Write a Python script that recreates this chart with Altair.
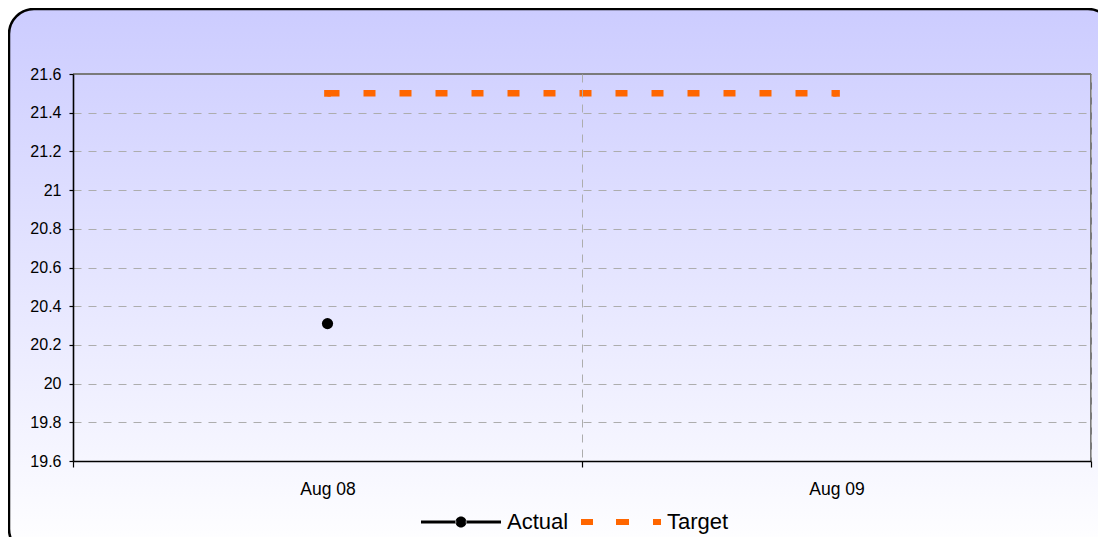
import altair as alt
import pandas as pd

# ---- data ----
months = ["Aug 08", "Aug 09"]
actual = [20.31, None]
target = [21.5, 21.5]
series_names = ["Actual", "Target"]
y_ticks = [19.6, 19.8, 20.0, 20.2, 20.4, 20.6, 20.8, 21.0, 21.2, 21.4, 21.6]

actual_df = pd.DataFrame({
    "month": [m for m, v in zip(months, actual) if v is not None],
    "value": [v for v in actual if v is not None],
    "series": "Actual",
})
target_df = pd.DataFrame({"month": months, "value": target, "series": "Target"})
all_df = pd.concat([actual_df, target_df], ignore_index=True)

W, H = 1018, 387
FONT = "Liberation Sans"
ORANGE = "#ff6600"
GRID = "#adadad"

x_enc = alt.X(
    "month:N",
    sort=months,
    scale=alt.Scale(type="band", domain=months, paddingInner=0, paddingOuter=0),
    axis=alt.Axis(
        title=None, tickBand="extent", grid=True, gridColor=GRID, gridDash=[8, 7],
        gridWidth=1, domainColor="#000000", domainWidth=1.6, tickColor="#000000",
        tickSize=6, tickWidth=1.2, labelFont=FONT, labelFontSize=17.5, labelColor="#000000",
        labelPadding=13, labelAngle=0, zindex=1,
    ),
)
y_enc = alt.Y(
    "value:Q",
    scale=alt.Scale(domain=[19.6, 21.6], nice=False, zero=False),
    axis=alt.Axis(
        title=None, values=y_ticks, format="~g", grid=True, gridColor=GRID,
        gridOpacity={"condition": {"test": "datum.value > 21.59", "value": 0}, "value": 1},
        gridDash=[8, 7], gridWidth=1, domainColor="#000000", domainWidth=1.6,
        tickColor="#000000", tickSize=4, tickWidth=1.2, labelFont=FONT,
        labelFontSize=16, labelColor="#000000", labelPadding=8, zindex=1,
    ),
)

# background panel (rounded, gradient)
bg = alt.Chart(alt.Data(values=[{}])).mark_rect(
    cornerRadius=25,
    stroke="#000000",
    strokeWidth=2.5,
    fill=alt.LinearGradient(
        gradient="linear",
        stops=[alt.GradientStop(color="#ccccff", offset=0),
               alt.GradientStop(color="#ffffff", offset=1)],
        x1=0, x2=0, y1=0, y2=1,
    ),
).encode(x=alt.value(-64), x2=alt.value(W + 22), y=alt.value(-65), y2=alt.value(H + 93))

top_border = alt.Chart(alt.Data(values=[{}])).mark_rule(
    color="#7a7a7a", strokeWidth=2
).encode(y=alt.value(0))
right_border = alt.Chart(alt.Data(values=[{}])).mark_rule(
    color="#7a7a7a", strokeWidth=2
).encode(x=alt.value(W))

target_line = alt.Chart(target_df).mark_line(
    color=ORANGE, strokeWidth=6.5, strokeDash=[12, 24], strokeCap="butt"
).encode(x=x_enc, y=y_enc)

target_pts = alt.Chart(target_df).mark_square(
    color=ORANGE, size=45, opacity=1
).encode(x=x_enc, y=y_enc)

actual_pts = alt.Chart(actual_df).mark_circle(
    color="#000000", size=125, opacity=1
).encode(x=x_enc, y=y_enc)

path_actual = ("M-1,-0.0375H-0.12V0.0375H-1Z "
               "M0.12,-0.0375H1V0.0375H0.12Z "
               "M-0.1375,0A0.1375,0.1375,0,1,0,0.1375,0A0.1375,0.1375,0,1,0,-0.1375,0Z")
path_target = ("M-1,-0.075H-0.7V0.075H-1Z "
               "M-0.125,-0.075H0.2V0.075H-0.125Z "
               "M0.8,-0.075H1V0.075H0.8Z")

leg = alt.Legend(
    orient="none", legendX=348, legendY=408, direction="horizontal", title=None,
    symbolSize=6400, symbolStrokeWidth=0, symbolOpacity=1,
    labelFont=FONT, labelFontSize=22, labelColor="#000000",
    labelOffset=6, columnPadding=12, padding=0,
)

legend_layer = alt.Chart(all_df).transform_filter("false").mark_point(
    filled=True, opacity=1
).encode(
    x=x_enc,
    y=y_enc,
    color=alt.Color("series:N", scale=alt.Scale(domain=series_names, range=["#000000", ORANGE]), legend=leg),
    shape=alt.Shape("series:N", scale=alt.Scale(domain=series_names, range=[path_actual, path_target]), legend=leg),
)

chart = alt.layer(
    bg, top_border, right_border, target_line, target_pts, actual_pts, legend_layer
).properties(
    width=W,
    height=H,
    autosize=alt.AutoSizeParams(type="none"),
    padding={"left": 65, "top": 66, "right": 7, "bottom": 76},
    background="#ffffff",
).configure_view(stroke=None)

chart.save("out.html", embed_options={"renderer": "svg", "actions": False})
